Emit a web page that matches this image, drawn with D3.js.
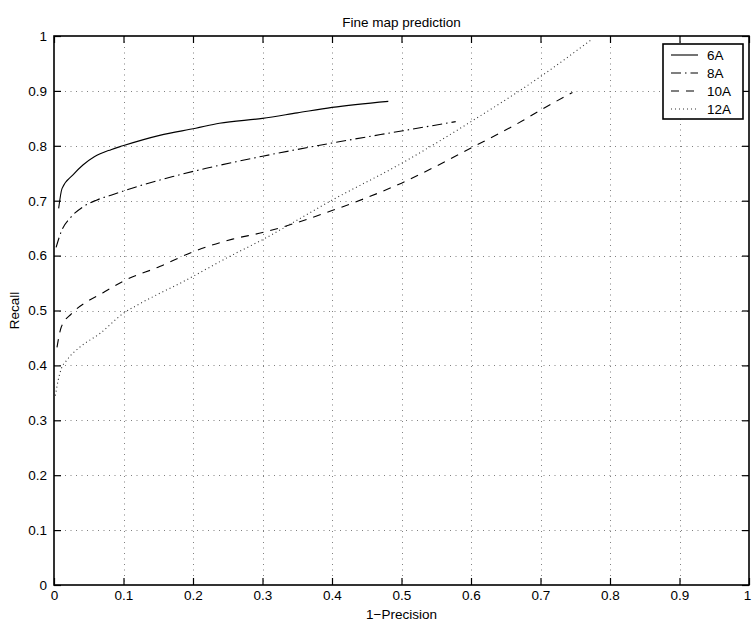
<!DOCTYPE html>
<html>
<head>
<meta charset="utf-8">
<script src="https://cdn.jsdelivr.net/npm/d3@7"></script>
<style>
  html, body { margin: 0; padding: 0; background: #fff; }
  svg { display: block; }
  text { font-family: "Liberation Sans", Arial, Helvetica, sans-serif; fill: #000; }
</style>
</head>
<body>
<svg id="chart" width="752" height="623"></svg>
<script>
// Precision/recall curves for the fine map predictor at four cutoffs.
const title = "Fine map prediction";
const xLabel = "1\u2212Precision";
const yLabel = "Recall";

const tickValues = [0, 0.1, 0.2, 0.3, 0.4, 0.5, 0.6, 0.7, 0.8, 0.9, 1];
const tickLabels = ["0", "0.1", "0.2", "0.3", "0.4", "0.5", "0.6", "0.7", "0.8", "0.9", "1"];

const seriesNames = ["6A", "8A", "10A", "12A"];

// each series: [1-precision, recall]
const curve6A = [
  [0.0067, 0.686], [0.0115, 0.722], [0.0273, 0.747], [0.0416, 0.765],
  [0.058, 0.780], [0.082, 0.793], [0.099, 0.800], [0.152, 0.819],
  [0.204, 0.832], [0.238, 0.841], [0.30, 0.850], [0.35, 0.860],
  [0.40, 0.870], [0.481, 0.881]
];
const curve8A = [
  [0.003, 0.615], [0.0105, 0.644], [0.025, 0.671], [0.042, 0.689],
  [0.061, 0.701], [0.082, 0.710], [0.118, 0.725], [0.171, 0.744],
  [0.219, 0.759], [0.262, 0.771], [0.30, 0.781], [0.40, 0.805],
  [0.50, 0.827], [0.578, 0.844]
];
const curve10A = [
  [0.0043, 0.433], [0.0105, 0.470], [0.025, 0.494], [0.046, 0.515],
  [0.070, 0.532], [0.099, 0.553], [0.152, 0.580], [0.20, 0.607],
  [0.257, 0.630], [0.30, 0.642], [0.40, 0.682], [0.50, 0.732],
  [0.60, 0.796], [0.676, 0.847], [0.70, 0.865], [0.746, 0.897]
];
const curve12A = [
  [0.002, 0.345], [0.006, 0.373], [0.0105, 0.394], [0.018, 0.409],
  [0.037, 0.433], [0.066, 0.458], [0.10, 0.495], [0.123, 0.512],
  [0.185, 0.552], [0.255, 0.600], [0.30, 0.629], [0.40, 0.701],
  [0.50, 0.768], [0.60, 0.844], [0.70, 0.926], [0.775, 0.995]
];
const seriesData = [curve6A, curve8A, curve10A, curve12A];
const seriesDash = [null, "10,4,1.5,4", "8,7", "1,3"];

const svg = d3.select("#chart");
const margin = { left: 54, right: 3, top: 36, bottom: 38 };
const W = 752, H = 623;
const x = d3.scaleLinear().domain([0, 1]).range([margin.left, W - margin.right]);
const y = d3.scaleLinear().domain([0, 1]).range([H - margin.bottom, margin.top]);

const fontSize = 13.5;
const fmt = d => tickLabels[tickValues.indexOf(d)];

// grid
const grid = svg.append("g").attr("stroke", "#808080").attr("stroke-width", 1)
  .attr("stroke-dasharray", "1,4.5");
grid.selectAll("line.gx").data(tickValues.slice(1, -1)).join("line")
  .attr("class", "gx")
  .attr("x1", d => Math.round(x(d)) + 0.5).attr("x2", d => Math.round(x(d)) + 0.5)
  .attr("y1", y(1)).attr("y2", y(0));
grid.selectAll("line.gy").data(tickValues.slice(1, -1)).join("line")
  .attr("class", "gy")
  .attr("y1", d => Math.round(y(d)) + 0.5).attr("y2", d => Math.round(y(d)) + 0.5)
  .attr("x1", x(0)).attr("x2", x(1));

// axes with inward ticks
const tickLen = 7;
function styleAxis(g) {
  g.selectAll("path.domain").remove();
  g.selectAll(".tick line").attr("stroke", "#000").attr("stroke-width", 1.2);
  g.selectAll(".tick text").attr("font-size", fontSize)
    .style("font-family", "'Liberation Sans', Arial, sans-serif");
}
svg.append("g").attr("transform", `translate(0,${y(0)})`)
  .call(d3.axisBottom(x).tickValues(tickValues).tickFormat(fmt)
    .tickSizeInner(-tickLen).tickSizeOuter(0).tickPadding(5))
  .call(styleAxis);
svg.append("g").attr("transform", `translate(0,${y(1)})`)
  .call(d3.axisTop(x).tickValues(tickValues).tickFormat("")
    .tickSizeInner(-tickLen).tickSizeOuter(0))
  .call(styleAxis);
svg.append("g").attr("transform", `translate(${x(0)},0)`)
  .call(d3.axisLeft(y).tickValues(tickValues).tickFormat(fmt)
    .tickSizeInner(-tickLen).tickSizeOuter(0).tickPadding(7))
  .call(styleAxis);
svg.append("g").attr("transform", `translate(${x(1)},0)`)
  .call(d3.axisRight(y).tickValues(tickValues).tickFormat("")
    .tickSizeInner(-tickLen).tickSizeOuter(0))
  .call(styleAxis);

// keep the rightmost tick label inside the page
svg.selectAll(".tick text").filter(d => d === 1)
  .filter(function () { return this.getAttribute("dy") === "0.71em"; })
  .attr("dx", -2);

// frame
svg.append("rect")
  .attr("x", x(0)).attr("y", y(1))
  .attr("width", x(1) - x(0)).attr("height", y(0) - y(1))
  .attr("fill", "none").attr("stroke", "#000").attr("stroke-width", 1.6);

// curves
const line = d3.line().x(d => x(d[0])).y(d => y(d[1])).curve(d3.curveMonotoneX);
svg.append("g").selectAll("path").data(seriesData).join("path")
  .attr("d", line)
  .attr("fill", "none")
  .attr("stroke", (d, i) => i === 3 ? "#333" : "#000")
  .attr("stroke-width", 1.1)
  .attr("stroke-dasharray", (d, i) => seriesDash[i]);

// titles
svg.append("text").attr("x", (x(0) + x(1)) / 2).attr("y", 27)
  .attr("text-anchor", "middle").attr("font-size", fontSize).text(title);
svg.append("text").attr("x", (x(0) + x(1)) / 2).attr("y", 619)
  .attr("text-anchor", "middle").attr("font-size", fontSize).text(xLabel);
svg.append("text")
  .attr("transform", `translate(19,${(y(0) + y(1)) / 2}) rotate(-90)`)
  .attr("text-anchor", "middle").attr("font-size", fontSize).text(yLabel);

// legend
const lg = svg.append("g");
const lgX = 663, lgY = 44, lgW = 80, lgH = 75;
lg.append("rect").attr("x", lgX).attr("y", lgY).attr("width", lgW).attr("height", lgH)
  .attr("fill", "#fff").attr("stroke", "#000").attr("stroke-width", 1.6);
const rowY = i => lgY + 11 + i * 18;
lg.selectAll("line").data(seriesNames).join("line")
  .attr("x1", lgX + 8).attr("x2", lgX + 35)
  .attr("y1", (d, i) => rowY(i)).attr("y2", (d, i) => rowY(i))
  .attr("stroke", (d, i) => i === 3 ? "#333" : "#000").attr("stroke-width", 1.1)
  .attr("stroke-dasharray", (d, i) => seriesDash[i]);
lg.selectAll("text").data(seriesNames).join("text")
  .attr("x", lgX + 44).attr("y", (d, i) => rowY(i) + 5)
  .attr("font-size", fontSize).text(d => d);
</script>
</body>
</html>
